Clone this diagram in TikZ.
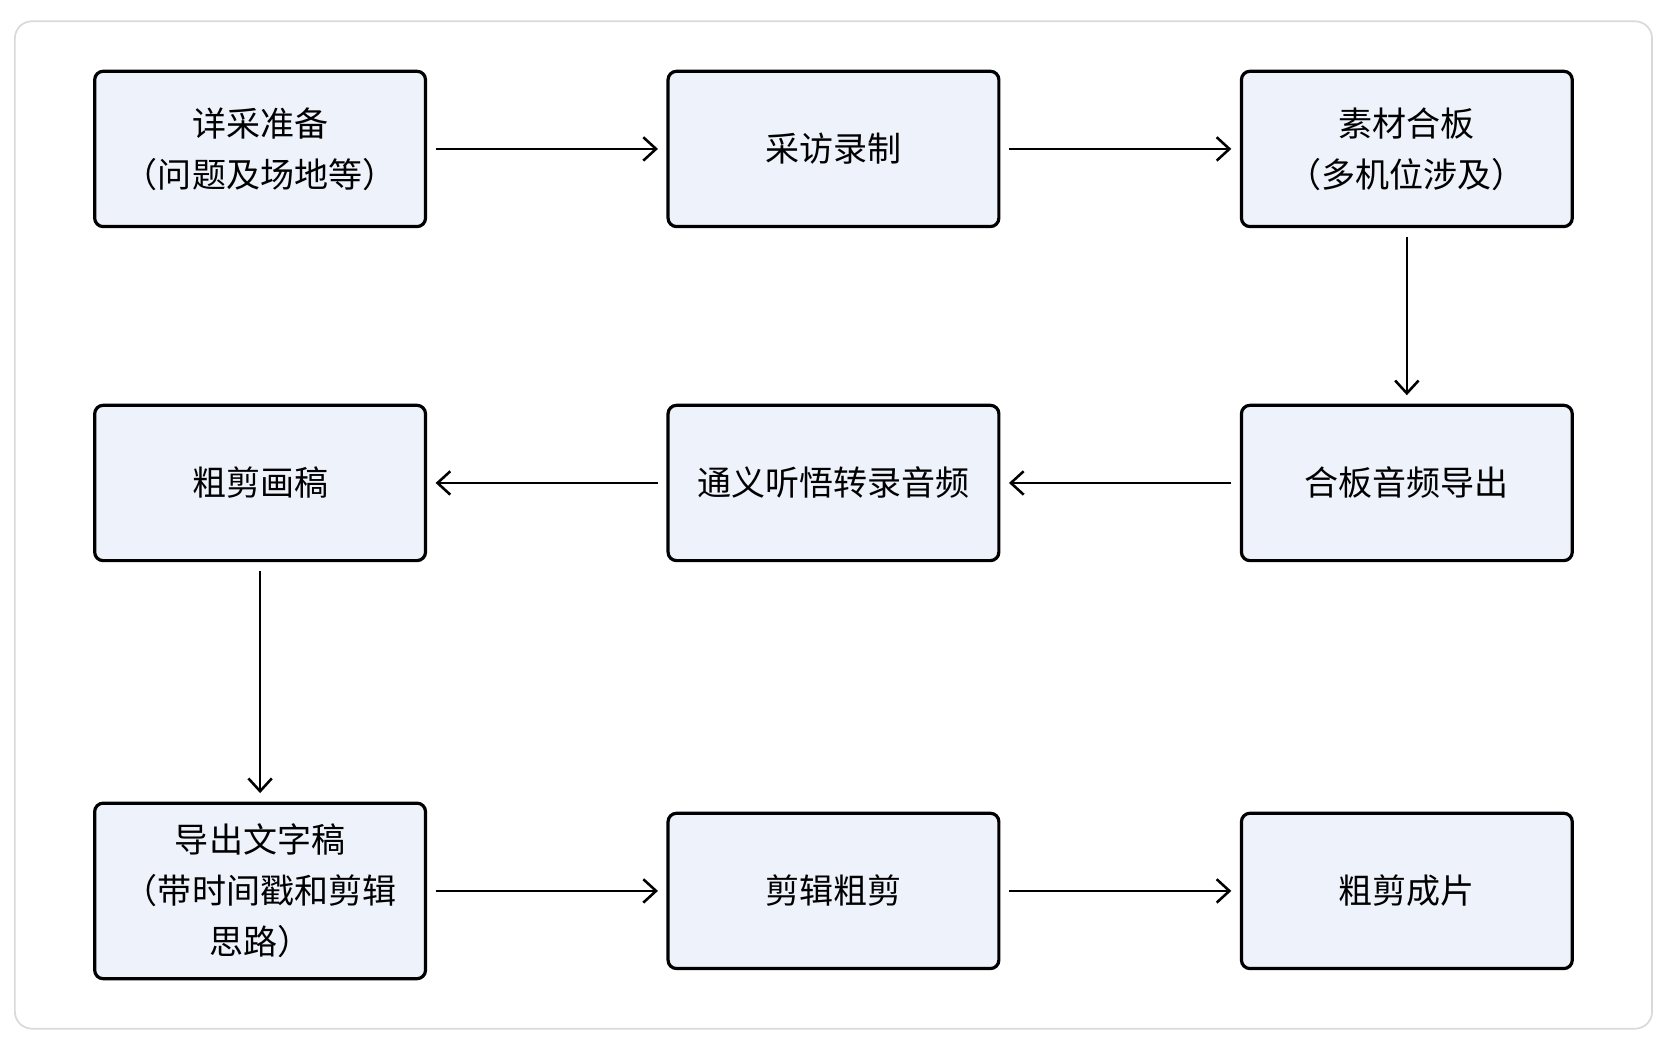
\documentclass[tikz,border=0pt]{standalone}
\usepackage{fontspec}
\setmainfont{Noto Sans CJK SC}
\usetikzlibrary{positioning,arrows.meta}
\definecolor{boxfill}{HTML}{EEF2FB}
\definecolor{framegray}{HTML}{D9D9D9}
\tikzset{
  stage/.style={draw=black, line width=1.5pt, fill=boxfill, rounded corners=4pt,
    minimum width=155.5pt, minimum height=73pt, align=center,
    font=\fontsize{16pt}{24pt}\selectfont},
  flow/.style={-{Straight Barb[length=6pt,width=11pt]}, line width=1.2pt,
    shorten <=4pt, shorten >=4pt}
}
\begin{document}
\begin{tikzpicture}[x=0.5pt, y=-0.5pt]
\useasboundingbox (0,0) rectangle (1568,981);
\draw[framegray, line width=0.8pt, rounded corners=8pt, fill=white] (14,20) rectangle (1553,967);
\node[stage] (prep) at (244.5,140) {详采准备\\（问题及场地等）};
\node[stage] (rec) at (783.5,140) {采访录制};
\node[stage] (merge) at (1322.5,140) {素材合板\\（多机位涉及）};
\node[stage] (audio) at (1322.5,454) {合板音频导出};
\node[stage] (trans) at (783.5,454) {通义听悟转录音频};
\node[stage] (draft) at (244.5,454) {粗剪画稿};
\node[stage, minimum height=82.5pt] (text) at (244.5,837.5) {导出文字稿\\（带时间戳和剪辑\\思路）};
\node[stage] (cut) at (783.5,837.5) {剪辑粗剪};
\node[stage] (final) at (1322.5,837.5) {粗剪成片};
\draw[flow] (prep) -- (rec);
\draw[flow] (rec) -- (merge);
\draw[flow] (merge) -- (audio);
\draw[flow] (audio) -- (trans);
\draw[flow] (trans) -- (draft);
\draw[flow] (draft) -- (text);
\draw[flow] (text) -- (cut);
\draw[flow] (cut) -- (final);
\end{tikzpicture}
\end{document}
